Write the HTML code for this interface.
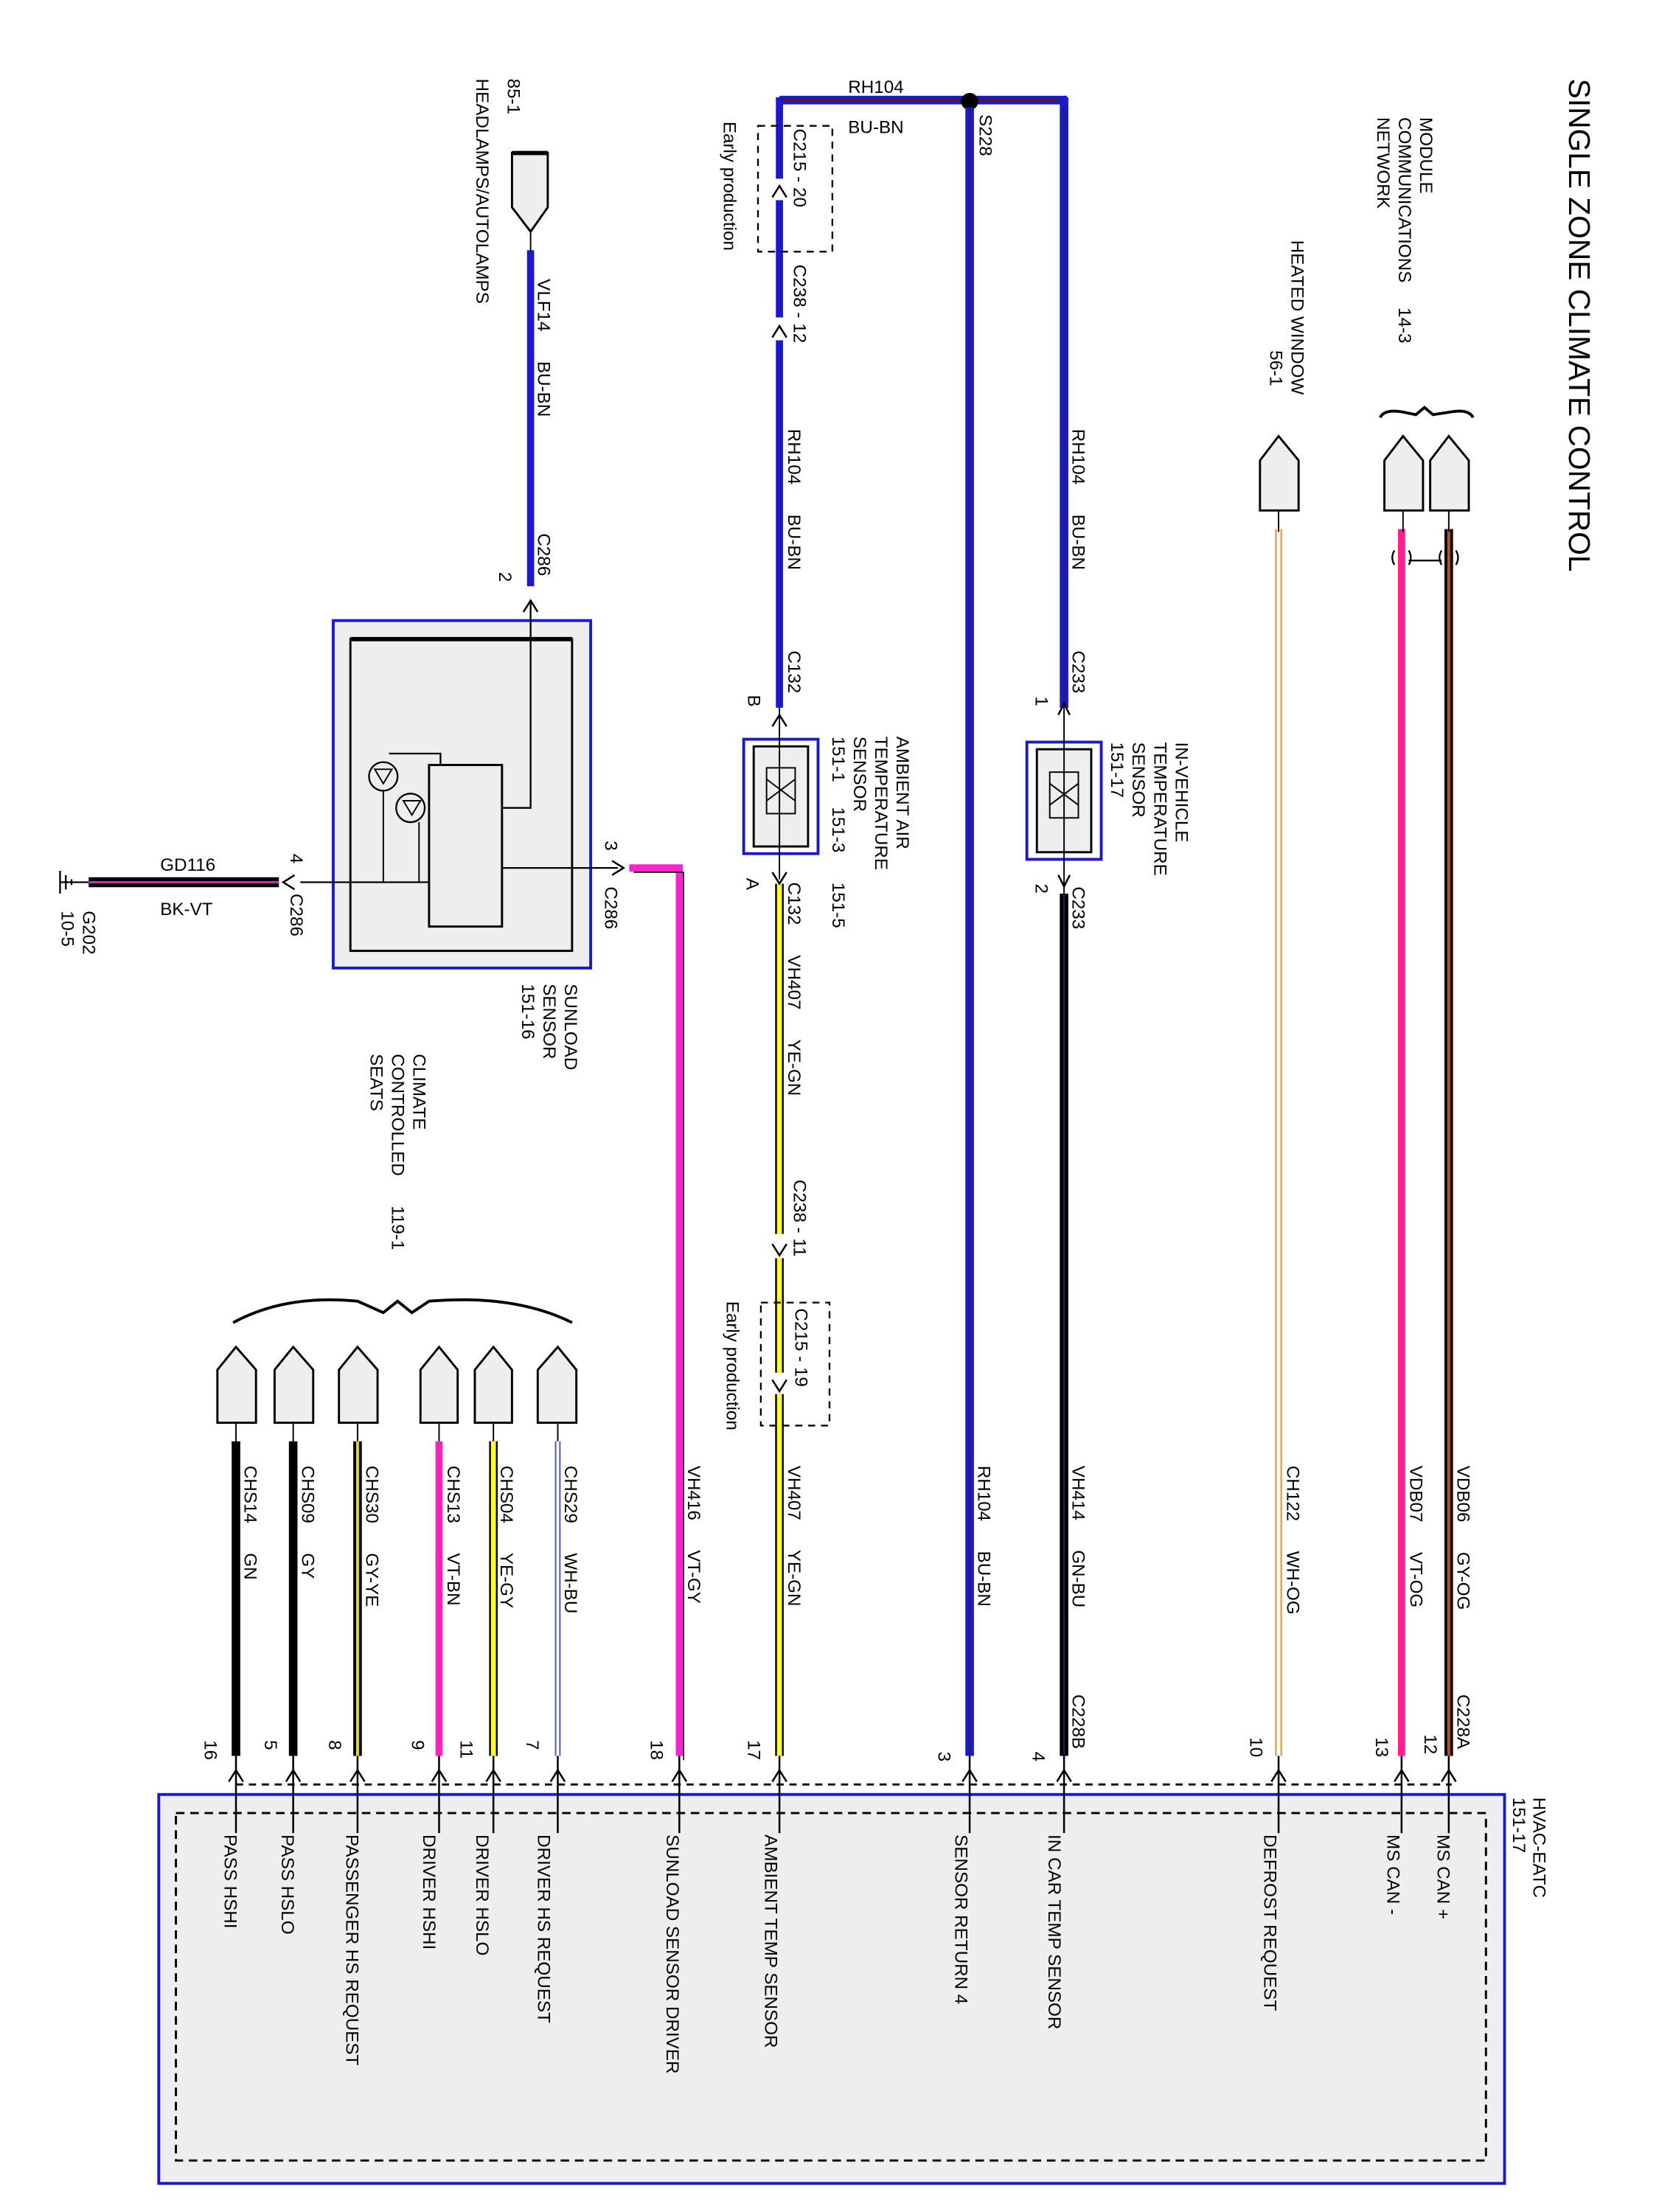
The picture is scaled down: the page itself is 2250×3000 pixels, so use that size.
<!DOCTYPE html>
<html><head><meta charset="utf-8"><style>
html,body{margin:0;padding:0;background:#fff;}
svg{display:block;}
text{font-family:"Liberation Sans",sans-serif;fill:#000;white-space:pre;}
</style></head><body>
<svg width="2250" height="3000" viewBox="0 0 1160 1547" preserveAspectRatio="none" xmlns="http://www.w3.org/2000/svg" xml:space="preserve">
<rect width="1160" height="1547" fill="#fff"/>

<!-- HVAC box -->
<rect x="111" y="1255" width="941" height="272" fill="#eeeeee" stroke="#1a1acc" stroke-width="2"/>
<rect x="123" y="1268" width="916" height="243" fill="none" stroke="#000" stroke-width="1.5" stroke-dasharray="6,4"/>
<line x1="165" y1="1248" x2="1015" y2="1248" stroke="#000" stroke-width="1.5" stroke-dasharray="5,4"/>

<!-- Top bus -->
<line x1="545" y1="70" x2="746" y2="70" stroke="#1a1acc" stroke-width="6"/>
<line x1="545" y1="70" x2="746" y2="70" stroke="#5a1a1a" stroke-width="1.5"/>
<circle cx="678" cy="71" r="6" fill="#000"/>

<!-- Left RH104 -->
<line x1="545" y1="68" x2="545" y2="125" stroke="#1a1acc" stroke-width="5"/>
<line x1="545" y1="140" x2="545" y2="222" stroke="#1a1acc" stroke-width="5"/>
<line x1="545" y1="238" x2="545" y2="495" stroke="#1a1acc" stroke-width="5"/>
<rect x="530" y="88" width="52" height="88" fill="none" stroke="#000" stroke-width="1.2" stroke-dasharray="5,4"/>
<!-- S228 -->
<line x1="678" y1="75" x2="678" y2="1228" stroke="#1a1acc" stroke-width="6"/>
<line x1="678" y1="75" x2="678" y2="1228" stroke="#202060" stroke-width="1"/>
<!-- right RH104 -->
<line x1="744" y1="68" x2="744" y2="495" stroke="#1a1acc" stroke-width="6"/>
<line x1="744" y1="75" x2="744" y2="495" stroke="#202060" stroke-width="1"/>

<!-- sensors -->
<rect x="520" y="517" width="52" height="80" fill="#fff" stroke="#1a1acc" stroke-width="2"/>
<rect x="527" y="522" width="38" height="70" fill="#eee" stroke="#000" stroke-width="1.5"/>
<rect x="536" y="537" width="20" height="32" fill="none" stroke="#000" stroke-width="1"/>
<path d="M536 545 L556 560 M536 560 L556 545" stroke="#000" stroke-width="1"/>
<rect x="718" y="519" width="52" height="82" fill="#fff" stroke="#1a1acc" stroke-width="2"/>
<rect x="725" y="524" width="38" height="72" fill="#eee" stroke="#000" stroke-width="1.5"/>
<rect x="734" y="540" width="20" height="32" fill="none" stroke="#000" stroke-width="1"/>
<path d="M734 548 L754 563 M734 563 L754 548" stroke="#000" stroke-width="1"/>
<line x1="545" y1="495" x2="545" y2="615" stroke="#000" stroke-width="1"/>
<line x1="744" y1="495" x2="744" y2="625" stroke="#000" stroke-width="1"/>

<!-- VH407 yellow -->
<g stroke-width="6">
<line x1="545" y1="618" x2="545" y2="863" stroke="#000"/>
<line x1="545" y1="880" x2="545" y2="960" stroke="#000"/>
<line x1="545" y1="975" x2="545" y2="1228" stroke="#000"/>
</g>
<g stroke-width="3.5">
<line x1="545" y1="618" x2="545" y2="863" stroke="#ffff30"/>
<line x1="545" y1="880" x2="545" y2="960" stroke="#ffff30"/>
<line x1="545" y1="975" x2="545" y2="1228" stroke="#ffff30"/>
</g>
<rect x="532" y="911" width="48" height="86" fill="none" stroke="#000" stroke-width="1.2" stroke-dasharray="5,4"/>

<!-- VH414 black -->
<line x1="744" y1="625" x2="744" y2="1228" stroke="#000" stroke-width="6"/>
<line x1="744" y1="625" x2="744" y2="1228" stroke="#202050" stroke-width="1"/>

<!-- CH122 -->
<line x1="894" y1="370" x2="894" y2="1228" stroke="#e8a050" stroke-width="5"/>
<line x1="894" y1="370" x2="894" y2="1228" stroke="#fff" stroke-width="2.5"/>
<!-- VDB07 -->
<line x1="980" y1="370" x2="980" y2="1228" stroke="#ff2090" stroke-width="5"/>
<!-- VDB06 -->
<line x1="1013" y1="370" x2="1013" y2="1228" stroke="#000" stroke-width="6"/>
<line x1="1013" y1="370" x2="1013" y2="1228" stroke="#c05020" stroke-width="2"/>
<!-- twist marks -->
<path d="M975 395 Q972 390 975 385 M985 395 Q988 390 985 385 M1008 395 Q1005 390 1008 385 M1018 395 Q1021 390 1018 385 M985 392 L1008 392" stroke="#000" stroke-width="1.2" fill="none"/>
<!-- connectors MCN / heated -->
<g fill="#eeeeee" stroke="#000" stroke-width="1.5">
<path d="M968 357 L968 322 L981 305 L995 322 L995 357 Z"/>
<path d="M1000 357 L1000 322 L1013 305 L1027 322 L1027 357 Z"/>
<path d="M881 357 L881 322 L894 305 L908 322 L908 357 Z"/>
</g>
<path d="M965 292 Q968 286 980 288 L990 290 L996 285 L1002 290 L1015 288 Q1027 286 1030 292" stroke="#000" stroke-width="2" fill="none"/>
<line x1="981" y1="357" x2="981" y2="372" stroke="#000"/><line x1="1013" y1="357" x2="1013" y2="372" stroke="#000"/><line x1="894" y1="357" x2="894" y2="372" stroke="#000"/>

<!-- VH416 -->
<path d="M440 607 L475 607 L475 1228" stroke="#ff20d0" stroke-width="5" fill="none"/>
<path d="M440 607 L475 607 L475 1228" stroke="#000" stroke-width="0.8" fill="none" transform="translate(3,3)"/>

<!-- Sunload box -->
<rect x="233" y="434" width="180" height="243" fill="#eeeeee" stroke="#1a1acc" stroke-width="2"/>
<rect x="245" y="447" width="155" height="218" fill="#eeeeee" stroke="#000" stroke-width="1.5"/>
<line x1="245" y1="447" x2="400" y2="447" stroke="#000" stroke-width="3"/>
<rect x="300" y="535" width="51" height="113" fill="#eee" stroke="#000" stroke-width="1.5"/>
<path d="M371 420 L371 565 L351 565" stroke="#000" stroke-width="1.2" fill="none"/>
<path d="M351 607 L432 607" stroke="#000" stroke-width="1.2"/>
<path d="M210 617 L300 617" stroke="#000" stroke-width="1.2"/>
<path d="M272 527 L308 527 L308 535" stroke="#000" stroke-width="1.2" fill="none"/>
<circle cx="268" cy="543" r="10" fill="none" stroke="#000" stroke-width="1.2"/>
<circle cx="287" cy="565" r="10" fill="none" stroke="#000" stroke-width="1.2"/>
<line x1="268" y1="553" x2="268" y2="617" stroke="#000" stroke-width="1"/>
<line x1="293" y1="575" x2="293" y2="617" stroke="#000" stroke-width="1"/>
<path d="M262 538 L274 538 L268 548 Z M282 560 L294 560 L288 570 Z" fill="none" stroke="#000"/>

<!-- VLF14 -->
<line x1="371" y1="175" x2="371" y2="410" stroke="#1a1acc" stroke-width="5"/>
<line x1="371" y1="162" x2="371" y2="176" stroke="#000"/>
<path d="M358 107 L383 107 L383 145 L371 162 L358 145 Z" fill="#eee" stroke="#000" stroke-width="1.5"/>
<line x1="358" y1="107" x2="383" y2="107" stroke="#000" stroke-width="3"/>

<!-- GD116 -->
<line x1="62" y1="617" x2="195" y2="617" stroke="#000" stroke-width="7"/>
<line x1="62" y1="617" x2="195" y2="617" stroke="#e020c0" stroke-width="1.5"/>
<path d="M42 609 L42 625 M46 612 L46 622 M50 615 L50 619 M42 617 L62 617" stroke="#000" stroke-width="1.2"/>

<!-- seat connectors -->
<g fill="#eeeeee" stroke="#000" stroke-width="1.5">
<path d="M152 995 L152 958 L165 942 L179 958 L179 995 Z"/>
<path d="M192 995 L192 958 L205 942 L219 958 L219 995 Z"/>
<path d="M237 995 L237 958 L250 942 L264 958 L264 995 Z"/>
<path d="M294 995 L294 958 L307 942 L320 958 L320 995 Z"/>
<path d="M332 995 L332 958 L345 942 L358 958 L358 995 Z"/>
<path d="M376 995 L376 958 L390 942 L403 958 L403 995 Z"/>
</g>
<path d="M163 925 Q200 905 250 910 L268 918 L278 910 L288 918 L300 910 Q360 905 400 925" stroke="#000" stroke-width="2" fill="none"/>
<g stroke="#000" stroke-width="1"><line x1="165" y1="995" x2="165" y2="1008"/><line x1="205" y1="995" x2="205" y2="1008"/><line x1="250" y1="995" x2="250" y2="1008"/><line x1="307" y1="995" x2="307" y2="1008"/><line x1="345" y1="995" x2="345" y2="1008"/><line x1="390" y1="995" x2="390" y2="1008"/></g>
<line x1="165" y1="1008" x2="165" y2="1228" stroke="#000" stroke-width="6"/>
<line x1="205" y1="1008" x2="205" y2="1228" stroke="#000" stroke-width="6"/>
<line x1="250" y1="1008" x2="250" y2="1228" stroke="#000" stroke-width="6"/>
<line x1="250" y1="1008" x2="250" y2="1228" stroke="#e0e020" stroke-width="2"/>
<line x1="307" y1="1008" x2="307" y2="1228" stroke="#ff20c0" stroke-width="5"/>
<line x1="345" y1="1008" x2="345" y2="1228" stroke="#000" stroke-width="6"/>
<line x1="345" y1="1008" x2="345" y2="1228" stroke="#ffff30" stroke-width="3.5"/>
<line x1="390" y1="1008" x2="390" y2="1228" stroke="#5050c0" stroke-width="4"/>
<line x1="390" y1="1008" x2="390" y2="1228" stroke="#fff" stroke-width="2"/>

<!-- pin leads into box + arrows -->
<g stroke="#000" stroke-width="1.3" fill="none">
<path d="M165 1228 V1282 M205 1228 V1282 M250 1228 V1282 M307 1228 V1282 M345 1228 V1282 M390 1228 V1282 M475 1228 V1282 M545 1228 V1282 M678 1228 V1282 M744 1228 V1282 M894 1228 V1282 M980 1228 V1282 M1013 1228 V1282"/>
<path d="M160 1246 L165 1238 L170 1246 M200 1246 L205 1238 L210 1246 M245 1246 L250 1238 L255 1246 M302 1246 L307 1238 L312 1246 M340 1246 L345 1238 L350 1246 M385 1246 L390 1238 L395 1246 M470 1246 L475 1238 L480 1246 M540 1246 L545 1238 L550 1246 M673 1246 L678 1238 L683 1246 M739 1246 L744 1238 L749 1246 M889 1246 L894 1238 L899 1246 M975 1246 L980 1238 L985 1246 M1008 1246 L1013 1238 L1018 1246"/>
<path d="M540 138 L545 130 L550 138 M540 236 L545 228 L550 236 M540 508 L545 500 L550 508 M740 500 L744 492 L748 500"/>
<path d="M540 610 L545 618 L550 610 M740 612 L744 620 L748 612 M540 870 L545 878 L550 870 M540 965 L545 973 L550 965"/>
<path d="M366 428 L371 420 L376 428 M428 602 L436 607 L428 612 M206 612 L198 617 L206 622"/>
</g>

<!-- TEXT -->
<g font-size="21"><text transform="translate(1097,55) rotate(90)">SINGLE ZONE CLIMATE CONTROL</text></g>
<g font-size="12.5">
<text transform="translate(993,82) rotate(90)">MODULE</text>
<text transform="translate(978,82) rotate(90)">COMMUNICATIONS     14-3</text>
<text transform="translate(963,82) rotate(90)">NETWORK</text>
<text transform="translate(903,168) rotate(90)">HEATED WINDOW</text>
<text transform="translate(888,245) rotate(90)">56-1</text>
<text transform="translate(1019,1025) rotate(90)">VDB06      GY-OG</text>
<text transform="translate(1019,1185) rotate(90)">C228A</text>
<text transform="translate(996,1213) rotate(90)">12</text>
<text transform="translate(986,1025) rotate(90)">VDB07      VT-OG</text>
<text transform="translate(962,1215) rotate(90)">13</text>
<text transform="translate(900,1025) rotate(90)">CH122      WH-OG</text>
<text transform="translate(874,1215) rotate(90)">10</text>
<text transform="translate(750,300) rotate(90)">RH104      BU-BN</text>
<text transform="translate(750,455) rotate(90)">C233</text>
<text transform="translate(724,487) rotate(90)">1</text>
<text transform="translate(822,519) rotate(90)">IN-VEHICLE</text>
<text transform="translate(807,519) rotate(90)">TEMPERATURE</text>
<text transform="translate(792,519) rotate(90)">SENSOR</text>
<text transform="translate(777,519) rotate(90)">151-17</text>
<text transform="translate(724,618) rotate(90)">2</text>
<text transform="translate(750,620) rotate(90)">C233</text>
<text transform="translate(750,1025) rotate(90)">VH414      GN-BU</text>
<text transform="translate(750,1185) rotate(90)">C228B</text>
<text transform="translate(722,1225) rotate(90)">4</text>
<text transform="translate(685,80) rotate(90)">S228</text>
<text x="593" y="65">RH104</text>
<text x="593" y="93">BU-BN</text>
<text transform="translate(684,1025) rotate(90)">RH104      BU-BN</text>
<text transform="translate(656,1225) rotate(90)">3</text>
<text transform="translate(506,85) rotate(90)">Early production</text>
<text transform="translate(555,90) rotate(90)">C215 - 20</text>
<text transform="translate(555,185) rotate(90)">C238 - 12</text>
<text transform="translate(551,300) rotate(90)">RH104      BU-BN</text>
<text transform="translate(551,455) rotate(90)">C132</text>
<text transform="translate(523,486) rotate(90)">B</text>
<text transform="translate(627,515) rotate(90)">AMBIENT AIR</text>
<text transform="translate(612,515) rotate(90)">TEMPERATURE</text>
<text transform="translate(597,515) rotate(90)">SENSOR</text>
<text transform="translate(582,515) rotate(90)">151-1     151-3      151-5</text>
<text transform="translate(522,614) rotate(90)">A</text>
<text transform="translate(551,617) rotate(90)">C132</text>
<text transform="translate(551,668) rotate(90)">VH407      YE-GN</text>
<text transform="translate(555,825) rotate(90)">C238 - 11</text>
<text transform="translate(508,910) rotate(90)">Early production</text>
<text transform="translate(556,915) rotate(90)">C215 - 19</text>
<text transform="translate(551,1025) rotate(90)">VH407      YE-GN</text>
<text transform="translate(523,1217) rotate(90)">17</text>
<text transform="translate(481,1025) rotate(90)">VH416      VT-GY</text>
<text transform="translate(455,1217) rotate(90)">18</text>
<text transform="translate(395,688) rotate(90)">SUNLOAD</text>
<text transform="translate(380,688) rotate(90)">SENSOR</text>
<text transform="translate(365,688) rotate(90)">151-16</text>
<text transform="translate(423,588) rotate(90)">3</text>
<text transform="translate(423,620) rotate(90)">C286</text>
<text transform="translate(203,597) rotate(90)">4</text>
<text transform="translate(203,625) rotate(90)">C286</text>
<text x="112" y="609">GD116</text>
<text x="112" y="640">BK-VT</text>
<text transform="translate(58,637) rotate(90)">G202</text>
<text transform="translate(43,637) rotate(90)">10-5</text>
<text transform="translate(376,373) rotate(90)">C286</text>
<text transform="translate(349,400) rotate(90)">2</text>
<text transform="translate(376,195) rotate(90)">VLF14      BU-BN</text>
<text transform="translate(355,55) rotate(90)">85-1</text>
<text transform="translate(333,55) rotate(90)">HEADLAMPS/AUTOLAMPS</text>
<text transform="translate(289,737) rotate(90)">CLIMATE</text>
<text transform="translate(274,737) rotate(90)">CONTROLLED      119-1</text>
<text transform="translate(259,737) rotate(90)">SEATS</text>
<text transform="translate(171,1025) rotate(90)">CHS14      GN</text>
<text transform="translate(211,1025) rotate(90)">CHS09      GY</text>
<text transform="translate(256,1025) rotate(90)">CHS30      GY-YE</text>
<text transform="translate(313,1025) rotate(90)">CHS13      VT-BN</text>
<text transform="translate(350,1025) rotate(90)">CHS04      YE-GY</text>
<text transform="translate(395,1025) rotate(90)">CHS29      WH-BU</text>
<text transform="translate(143,1217) rotate(90)">16</text>
<text transform="translate(185,1217) rotate(90)">5</text>
<text transform="translate(230,1217) rotate(90)">8</text>
<text transform="translate(288,1217) rotate(90)">9</text>
<text transform="translate(322,1217) rotate(90)">11</text>
<text transform="translate(368,1217) rotate(90)">7</text>
<text transform="translate(1072,1257) rotate(90)">HVAC-EATC</text>
<text transform="translate(1058,1257) rotate(90)">151-17</text>
<text transform="translate(157,1283) rotate(90)">PASS HSHI</text>
<text transform="translate(197,1283) rotate(90)">PASS HSLO</text>
<text transform="translate(242,1283) rotate(90)">PASSENGER HS REQUEST</text>
<text transform="translate(296,1283) rotate(90)">DRIVER HSHI</text>
<text transform="translate(333,1283) rotate(90)">DRIVER HSLO</text>
<text transform="translate(376,1283) rotate(90)">DRIVER HS REQUEST</text>
<text transform="translate(466,1283) rotate(90)">SUNLOAD SENSOR DRIVER</text>
<text transform="translate(535,1283) rotate(90)">AMBIENT TEMP SENSOR</text>
<text transform="translate(668,1283) rotate(90)">SENSOR RETURN 4</text>
<text transform="translate(733,1283) rotate(90)">IN CAR TEMP SENSOR</text>
<text transform="translate(884,1283) rotate(90)">DEFROST REQUEST</text>
<text transform="translate(970,1283) rotate(90)">MS CAN -</text>
<text transform="translate(1005,1283) rotate(90)">MS CAN +</text>
</g>
</svg>
</body></html>
